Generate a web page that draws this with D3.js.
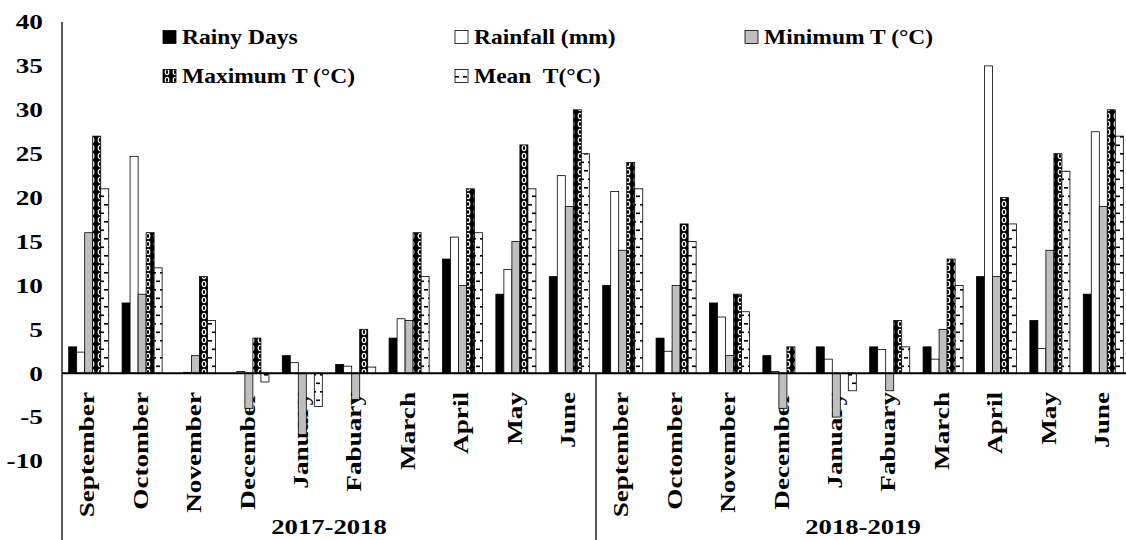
<!DOCTYPE html>
<html lang="en">
<head>
    <meta charset="UTF-8">
    <title>Climate 2017-2019</title>
    <script src="https://cdn.jsdelivr.net/npm/d3@7"></script>
    <style>
        body { margin: 0; background: white; }
        svg { display: block; }
        text {
            font-family: "Liberation Serif", "Times New Roman", serif;
            font-weight: bold;
            fill: black;
        }
    </style>
</head>
<body>
    <svg id="chart" width="1126" height="540"></svg>
    <script>
        const seasons = ["2017-2018", "2018-2019"];
        const months = ["September", "Octomber", "November", "December", "January",
            "Fabuary", "March", "April", "May", "June"];
        const seriesNames = ["Rainy Days", "Rainfall (mm)", "Minimum T (°C)", "Maximum T (°C)", "Mean  T(°C)"];
        const yTicks = [-10, -5, 0, 5, 10, 15, 20, 25, 30, 35, 40];

        // values per month, Sep 2017 .. Jun 2019
        const rainyDays = [3, 8, 0, 0, 2, 1, 4, 13, 9, 11, 10, 4, 8, 2, 3, 3, 3, 11, 6, 9];
        const rainfall = [2.4, 24.7, 0.1, 0.2, 1.2, 0.8, 6.2, 15.5, 11.8, 22.5, 20.7, 2.5, 6.4, 0.2, 1.6, 2.7, 1.6, 35, 2.8, 27.5];
        const minT = [16, 9, 2, -4, -7, -3, 6, 10, 15, 19, 14, 10, 2, -4, -5, -2, 5, 11, 14, 19];
        const maxT = [27, 16, 11, 4, 0, 5, 16, 21, 26, 30, 24, 17, 9, 3, 0, 6, 13, 20, 25, 30];
        const meanT = [21, 12, 6, -1, -3.8, 0.7, 11, 16, 21, 25, 21, 15, 7, 0, -2, 3, 10, 17, 23, 27];

        const seriesValues = [rainyDays, rainfall, minT, maxT, meanT];
        const fills = ["#000", "#fff", "#bfbfbf", "url(#pMax)", "url(#pMean)"];

        const svg = d3.select("#chart");
        const defs = svg.append("defs");

        // max T: black with white links
        let pMax = defs.append("pattern").attr("id", "pMax")
            .attr("patternUnits", "userSpaceOnUse").attr("width", 8).attr("height", 8)
        pMax.append("rect").attr("width", 8).attr("height", 8).attr("fill", "#000")
        pMax.append("ellipse").attr("cx", 4).attr("cy", 4).attr("rx", 1.8).attr("ry", 2.6)
            .attr("fill", "none").attr("stroke", "#fff").attr("stroke-width", 1.2)

        // mean T: white with short dashes
        let pMean = defs.append("pattern").attr("id", "pMean")
            .attr("patternUnits", "userSpaceOnUse").attr("width", 8).attr("height", 17)
        pMean.append("rect").attr("width", 8).attr("height", 17).attr("fill", "#fff")
        pMean.append("rect").attr("x", 0).attr("y", 0).attr("width", 4).attr("height", 1.6).attr("fill", "#000")
        pMean.append("rect").attr("x", 4).attr("y", 8.5).attr("width", 4).attr("height", 1.6).attr("fill", "#000")

        const cats = [];
        seasons.forEach(s => months.forEach(m => cats.push(s + "|" + m)));

        const x = d3.scaleBand().domain(cats).range([62, 1130])
            .paddingInner(0.25).paddingOuter(0.125);
        const xs = d3.scaleBand().domain(d3.range(seriesNames.length)).range([0, x.bandwidth()]);
        const y = d3.scaleLinear().domain([-10, 40]).range([461, 22]);

        // y tick labels (the source font is drawn wide)
        svg.append("g").selectAll("text").data(yTicks).join("text")
            .attr("transform", d => `translate(43,${y(d)}) scale(1.3,1)`)
            .attr("text-anchor", "end").attr("dominant-baseline", "central")
            .style("font-size", "21px")
            .text(d => d);

        // month labels (drawn under the bars)
        svg.append("g").selectAll("text").data(cats).join("text")
            .attr("transform", d => `translate(${x(d) + x.bandwidth() / 2 - 1},392) rotate(-90) scale(1.36,1)`)
            .attr("text-anchor", "end").attr("dominant-baseline", "central")
            .style("font-size", "20px")
            .text(d => d.split("|")[1]);

        // season labels
        svg.append("g").selectAll("text").data(seasons).join("text")
            .attr("transform", s => {
                let c = cats.filter(d => d.startsWith(s));
                let cx = (x(c[0]) - x.step() * x.paddingOuter() + x(c[c.length - 1]) + x.bandwidth() + x.step() * x.paddingOuter()) / 2;
                return `translate(${cx},527) scale(1.27,1)`;
            })
            .attr("text-anchor", "middle").attr("dominant-baseline", "central")
            .style("font-size", "21px")
            .text(d => d);

        // bars
        const bars = svg.append("g");
        seriesValues.forEach((vals, si) => {
            bars.append("g").selectAll("rect").data(vals).join("rect")
                .attr("x", (d, i) => x(cats[i]) + xs(si))
                .attr("width", xs.bandwidth())
                .attr("y", d => Math.min(y(d), y(0)))
                .attr("height", d => Math.abs(y(d) - y(0)))
                .attr("fill", fills[si])
                .attr("stroke", "#000").attr("stroke-width", 0.8);
        });

        // axes lines
        const axes = svg.append("g").attr("stroke", "#000").attr("fill", "none");
        axes.append("line").attr("x1", 62).attr("x2", 62).attr("y1", y(40)).attr("y2", 540).attr("stroke-width", 1.3);
        axes.append("line").attr("x1", 62).attr("x2", 1130).attr("y1", y(0)).attr("y2", y(0)).attr("stroke-width", 2);
        const sep = x(cats[10]) - x.step() * x.paddingInner() / 2;
        axes.append("line").attr("x1", sep).attr("x2", sep).attr("y1", y(0)).attr("y2", 540).attr("stroke-width", 1.3);

        // legend
        const legendPos = [[163, 37], [455, 37], [745, 37], [163, 76], [455, 76]];
        const legend = svg.append("g").selectAll("g").data(seriesNames).join("g")
            .attr("transform", (d, i) => `translate(${legendPos[i][0]},${legendPos[i][1]})`);
        legend.append("rect").attr("x", 0).attr("y", -6.5).attr("width", 13).attr("height", 13)
            .attr("fill", (d, i) => fills[i]).attr("stroke", "#000").attr("stroke-width", 0.8);
        legend.append("text").attr("transform", "translate(19,0) scale(1.12,1)")
            .attr("dominant-baseline", "central")
            .style("font-size", "21px").style("white-space", "pre")
            .text(d => d);
    </script>
</body>
</html>
